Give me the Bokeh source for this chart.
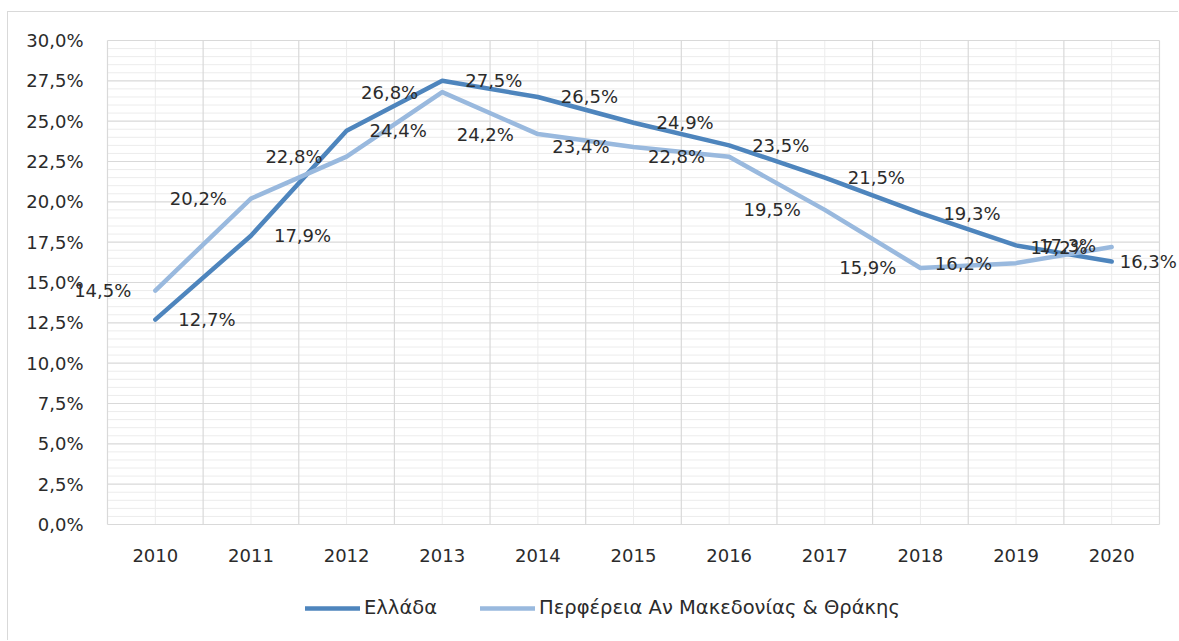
from bokeh.plotting import figure
from bokeh.models import Legend, LegendItem, ColumnDataSource, Range1d
from bokeh.core.properties import value
from bokeh.embed import file_html
from bokeh.resources import INLINE

# ---- data ----
years = ["2010", "2011", "2012", "2013", "2014", "2015", "2016", "2017", "2018", "2019", "2020"]
greece = [12.7, 17.9, 24.4, 27.5, 26.5, 24.9, 23.5, 21.5, 19.3, 17.3, 16.3]
region = [14.5, 20.2, 22.8, 26.8, 24.2, 23.4, 22.8, 19.5, 15.9, 16.2, 17.2]
series_names = ["Ελλάδα", "Περφέρεια Αν Μακεδονίας & Θράκης"]
y_ticks = [0, 2.5, 5, 7.5, 10, 12.5, 15, 17.5, 20, 22.5, 25, 27.5, 30]
y_tick_labels = ["0,0%", "2,5%", "5,0%", "7,5%", "10,0%", "12,5%", "15,0%",
                 "17,5%", "20,0%", "22,5%", "25,0%", "27,5%", "30,0%"]

# ---- style ----
FONT = "DejaVu Sans"
FS = "18px"
TXT = "#2b2b2b"
DARK = "#4e85bd"
LIGHT = "#99b9de"
GRID = "#d9d9d9"
MINOR = "#ececec"

# page layout (pixels): figure content starts at (8, 12) after margin + border
FIG_L, FIG_T, FIG_W, FIG_H = 8, 12, 1171, 629
PLOT_L, PLOT_R, PLOT_T, PLOT_B = 107, 1159, 40, 524


def fmt(v):
    return f"{v:.1f}".replace(".", ",") + "%"


n = len(years)
xs = list(range(n))
x_lo, x_hi = -0.5, n - 0.5
y_lo, y_hi = y_ticks[0], y_ticks[-1]
kx = (PLOT_R - PLOT_L) / (x_hi - x_lo)
ky = (PLOT_B - PLOT_T) / (y_hi - y_lo)
xr = Range1d(x_lo - (PLOT_L - FIG_L) / kx, x_hi + (FIG_L + FIG_W - PLOT_R) / kx)
yr = Range1d(y_lo - (FIG_T + FIG_H - PLOT_B) / ky, y_hi + (PLOT_T - FIG_T) / ky)

p = figure(width=FIG_W, height=FIG_H, x_range=xr, y_range=yr, title=None,
           x_axis_location=None, y_axis_location=None, min_border=0,
           output_backend="svg", toolbar_location=None)
p.background_fill_color = "white"
p.border_fill_color = "white"
p.outline_line_color = None
p.xgrid.visible = False
p.ygrid.visible = False
p.styles = {"margin-left": "7px", "margin-top": "11px",
            "border-left": "1px solid #d9d9d9", "border-top": "1px solid #d9d9d9"}

# plot-area grid (minor then major)
minor_y = [i * 0.5 for i in range(int(y_hi / 0.5) + 1) if (i * 0.5) not in y_ticks]
p.segment(x0=x_lo, x1=x_hi, y0=minor_y, y1=minor_y, line_color=MINOR, line_width=1)
p.segment(x0=xs, x1=xs, y0=y_lo, y1=y_hi, line_color=MINOR, line_width=1)
bounds_x = [i - 0.5 for i in range(n + 1)]
p.segment(x0=x_lo, x1=x_hi, y0=y_ticks, y1=y_ticks, line_color=GRID, line_width=1.2)
p.segment(x0=bounds_x, x1=bounds_x, y0=y_lo, y1=y_hi, line_color=GRID, line_width=1.2)

# axis tick labels
p.text(x=[x_lo] * len(y_ticks), y=y_ticks, text=y_tick_labels, x_offset=-24,
       text_align="right", text_baseline="middle", text_font=value(FONT),
       text_font_size=FS, text_color=TXT)
p.text(x=xs, y=[y_lo] * n, text=years, y_offset=24, text_align="center",
       text_baseline="top", text_font=value(FONT), text_font_size=FS, text_color=TXT)

# lines
r1 = p.line(xs, greece, line_width=4.5, color=DARK, line_cap="round", line_join="round")
r2 = p.line(xs, region, line_width=4.5, color=LIGHT, line_cap="round", line_join="round")

# data labels
src_g = ColumnDataSource(dict(x=xs, y=greece, t=[fmt(v) for v in greece],
                              off=[23] * (n - 1) + [8]))
src_r = ColumnDataSource(dict(x=xs, y=region, t=[fmt(v) for v in region]))
p.text(x="x", y="y", text="t", x_offset="off", source=src_g, text_align="left",
       text_baseline="middle", text_font=value(FONT), text_font_size=FS, text_color=TXT)
p.text(x="x", y="y", text="t", x_offset=-24, source=src_r, text_align="right",
       text_baseline="middle", text_font=value(FONT), text_font_size=FS, text_color=TXT)

legend = Legend(items=[LegendItem(label=series_names[0], renderers=[r1]),
                       LegendItem(label=series_names[1], renderers=[r2])],
                orientation="horizontal", location=(305 - FIG_L, 22),
                glyph_width=55, glyph_height=20, label_standoff=4, spacing=43,
                padding=0, margin=0, border_line_color=None, background_fill_alpha=0,
                label_text_font=FONT, label_text_font_size="19.5px", label_text_color=TXT)
p.add_layout(legend)

open("out.html", "w").write(file_html(p, INLINE))
